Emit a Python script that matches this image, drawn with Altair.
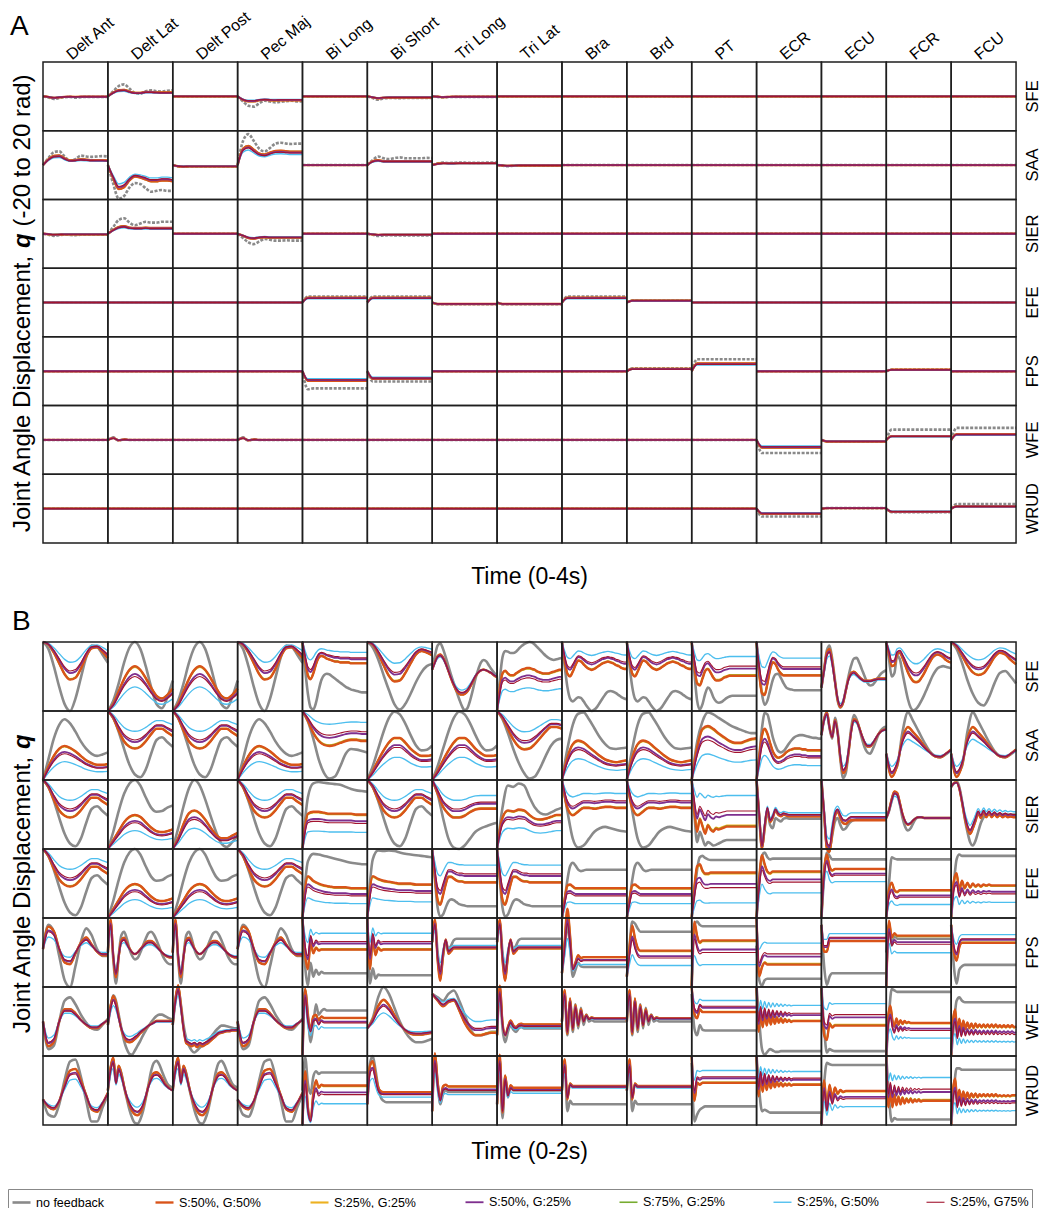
import altair as alt
import pandas as pd

alt.data_transformers.disable_max_rows()

FONT = "Liberation Sans"
JOINTS = ["SFE", "SAA", "SIER", "EFE", "FPS", "WFE", "WRUD"]
MUSCLES = ["Delt Ant", "Delt Lat", "Delt Post", "Pec Maj", "Bi Long", "Bi Short",
           "Tri Long", "Tri Lat", "Bra", "Brd", "PT", "ECR", "ECU", "FCR", "FCU"]
SERIES = ["no feedback", "S:50%, G:50%", "S:25%, G:25%", "S:50%, G:25%",
          "S:75%, G:25%", "S:25%, G:50%", "S:25%, G75%"]
COLORS = ["#8a8a8a", "#D95319", "#EDB120", "#7E2F8E", "#77AC30", "#4DBEEE", "#A2142F"]
WIDTHS = [2.6, 1.1, 1.1, 1.1, 1.1, 1.1, 1.2]
# place of each feedback run inside the fan of coloured curves (cyan closest to start)
FAN = [0.0, 1.0, 0.93, 0.25, 0.96, -1.0, 0.0]
# drawing order of the feedback runs (bottom to top)
LAYERS = [[2, 4], [1], [5], [3], [6]]

# ---------------- panel A : displacement (-20..20 rad), 0-4 s ----------------
Z13 = [0.0] * 13
A_T = {
    "flat": (Z13, Z13),
    "sfe_da": ([0, -0.6, -1.5, -1.0, -0.5, -0.4, -0.8, -0.5, -0.3, -0.3, -0.4, -0.3, -0.3],
               [0, -0.3, -0.8, -0.5, -0.3, -0.2, -0.3, -0.2, -0.2, -0.2, -0.2, -0.2, -0.2]),
    "sfe_dl": ([0, 3, 6, 7, 4.5, 2, 1.5, 3, 3.5, 3, 2.8, 3.3, 3.5],
               [0, 2, 3.2, 3.4, 2.5, 1.8, 1.8, 2.3, 2.3, 2.1, 2, 2, 2]),
    "sfe_pm": ([0, -3, -5.5, -6, -4, -2.5, -3, -3.5, -3.2, -2.8, -2.6, -3, -2.8],
               [0, -1.8, -2.6, -2.6, -2, -1.8, -2, -2.1, -2, -2, -2, -2, -2]),
    "sfe_bs": ([0, -1, -2, -1.2, -1, -1, -1.1, -1, -1, -1, -1, -1, -1],
               [0, -0.5, -1, -0.7, -0.6, -0.6, -0.6, -0.6, -0.6, -0.6, -0.6, -0.6, -0.6]),
    "tiny_dn": ([0, -0.3, -0.7, -0.4, -0.3, -0.3, -0.4, -0.3, -0.3, -0.3, -0.3, -0.3, -0.3],
                [0, -0.2, -0.4, -0.3, -0.2, -0.2, -0.2, -0.2, -0.2, -0.2, -0.2, -0.2, -0.2]),
    "saa_da": ([0, 4, 7.5, 8, 5, 2.5, 3.5, 5.5, 5, 4.8, 5, 5.2, 5],
               [0, 3, 4.8, 5, 3.5, 2.4, 2.6, 3, 2.8, 2.6, 2.5, 2.5, 2.4]),
    "saa_dl": ([0, -11, -19.5, -18, -13, -10.5, -11, -13.5, -15.5, -15, -14.5, -15, -15],
               [0, -7, -12.5, -11.5, -8, -6, -6.5, -7.5, -8.5, -8.5, -8, -8, -8.5]),
    "saa_dp": ([0, -0.8, -1, -0.8, -0.8, -0.8, -0.8, -0.8, -0.8, -0.8, -0.8, -0.8, -0.8],
               [0, -0.6, -0.8, -0.7, -0.7, -0.7, -0.7, -0.7, -0.7, -0.7, -0.7, -0.7, -0.7]),
    "saa_pm": ([0, 14, 18, 14, 9.5, 8, 10, 12.5, 13, 12.5, 12.3, 12.5, 12.5],
               [0, 8.5, 10, 8, 6, 5.5, 6.5, 7.3, 7.5, 7.2, 7, 7, 7]),
    "saa_bs": ([0, 3, 5, 4, 3.5, 4, 4.5, 4, 4, 4, 4, 4.2, 4],
               [0, 2, 2.5, 2, 2, 2, 2, 2, 2, 2, 2, 2, 2]),
    "saa_tlo": ([0, 1, 1.5, 1.2, 1.3, 1.5, 1.4, 1.3, 1.3, 1.3, 1.4, 1.4, 1.4],
                [0, 0.7, 1, 0.9, 0.9, 1, 1, 1, 1, 1, 1, 1, 1]),
    "sier_da": ([0, -0.5, -1.2, -0.8, -0.5, -0.7, -0.8, -0.6, -0.6, -0.6, -0.6, -0.6, -0.6],
                [0, -0.2, -0.5, -0.4, -0.3, -0.3, -0.3, -0.3, -0.3, -0.3, -0.3, -0.3, -0.3]),
    "sier_dl": ([0, 4, 8, 9, 6.5, 5, 6, 7, 6.5, 6.5, 7, 7, 7],
                [0, 2, 3.5, 4, 3.2, 3, 3, 3.2, 3, 3, 3, 3, 3]),
    "sier_pm": ([0, -2.5, -5, -6, -4.5, -3, -3.5, -4, -4, -3.8, -4, -4, -4],
                [0, -1, -2.2, -2.5, -2, -1.8, -2, -2, -2, -2, -2, -2, -2]),
    "sier_bs": ([0, -0.6, -1.2, -1, -0.8, -1, -1, -1, -1, -1, -1, -1, -1],
                [0, -0.3, -0.6, -0.5, -0.5, -0.5, -0.5, -0.5, -0.5, -0.5, -0.5, -0.5, -0.5]),
    "efe_up": ([0, 3.5, 3.5, 3.5, 3.5, 3.5, 3.5, 3.5, 3.5, 3.5, 3.5, 3.5, 3.5],
               [0, 2.5, 2.5, 2.5, 2.5, 2.5, 2.5, 2.5, 2.5, 2.5, 2.5, 2.5, 2.5]),
    "efe_dn": ([0, -1, -1, -1, -1, -1, -1, -1, -1, -1, -1, -1, -1],
               [0, -0.8, -0.8, -0.8, -0.8, -0.8, -0.8, -0.8, -0.8, -0.8, -0.8, -0.8, -0.8]),
    "efe_brd": ([0, 1.2, 1.2, 1.2, 1.2, 1.2, 1.2, 1.2, 1.2, 1.2, 1.2, 1.2, 1.2],
                [0, 1, 1, 1, 1, 1, 1, 1, 1, 1, 1, 1, 1]),
    "fps_bl": ([0, -10.5, -10, -10, -10, -10, -10, -10, -10, -10, -10, -10, -10],
               [0, -5, -5, -5, -5, -5, -5, -5, -5, -5, -5, -5, -5]),
    "fps_bs": ([0, -6, -6, -6, -6, -6, -6, -6, -6, -6, -6, -6, -6],
               [0, -4, -4, -4, -4, -4, -4, -4, -4, -4, -4, -4, -4]),
    "fps_brd": ([0, 1.7, 1.7, 1.7, 1.7, 1.7, 1.7, 1.7, 1.7, 1.7, 1.7, 1.7, 1.7],
                [0, 1.2, 1.2, 1.2, 1.2, 1.2, 1.2, 1.2, 1.2, 1.2, 1.2, 1.2, 1.2]),
    "fps_pt": ([0, 7, 7, 7, 7, 7, 7, 7, 7, 7, 7, 7, 7],
               [0, 4, 4, 4, 4, 4, 4, 4, 4, 4, 4, 4, 4]),
    "fps_fcr": ([0, 1, 1, 1, 1, 1, 1, 1, 1, 1, 1, 1, 1],
                [0, 0.8, 0.8, 0.8, 0.8, 0.8, 0.8, 0.8, 0.8, 0.8, 0.8, 0.8, 0.8]),
    "wfe_bump": ([0, 1.5, -0.3, 0.3, 0, 0, 0, 0, 0, 0, 0, 0, 0],
                 [0, 1, -0.2, 0.2, 0, 0, 0, 0, 0, 0, 0, 0, 0]),
    "wfe_ecr": ([0, -7.6, -7.6, -7.6, -7.6, -7.6, -7.6, -7.6, -7.6, -7.6, -7.6, -7.6, -7.6],
                [0, -4, -4, -4, -4, -4, -4, -4, -4, -4, -4, -4, -4]),
    "wfe_ecu": ([0, -1, -1, -1, -1, -1, -1, -1, -1, -1, -1, -1, -1],
                [0, -0.8, -0.8, -0.8, -0.8, -0.8, -0.8, -0.8, -0.8, -0.8, -0.8, -0.8, -0.8]),
    "wfe_fcr": ([0, 6, 6, 6, 6, 6, 6, 6, 6, 6, 6, 6, 6],
                [0, 2, 2, 2, 2, 2, 2, 2, 2, 2, 2, 2, 2]),
    "wfe_fcu": ([0, 7, 7, 7, 7, 7, 7, 7, 7, 7, 7, 7, 7],
                [0, 3, 3, 3, 3, 3, 3, 3, 3, 3, 3, 3, 3]),
    "wrud_ecr": ([0, -4.6, -4.6, -4.6, -4.6, -4.6, -4.6, -4.6, -4.6, -4.6, -4.6, -4.6, -4.6],
                 [0, -2.7, -2.7, -2.7, -2.7, -2.7, -2.7, -2.7, -2.7, -2.7, -2.7, -2.7, -2.7]),
    "wrud_ecu": ([0, 0.3, 0.3, 0.3, 0.3, 0.3, 0.3, 0.3, 0.3, 0.3, 0.3, 0.3, 0.3],
                 [0, 0.3, 0.3, 0.3, 0.3, 0.3, 0.3, 0.3, 0.3, 0.3, 0.3, 0.3, 0.3]),
    "wrud_fcr": ([0, -2, -2, -2, -2, -2, -2, -2, -2, -2, -2, -2, -2],
                 [0, -1.7, -1.7, -1.7, -1.7, -1.7, -1.7, -1.7, -1.7, -1.7, -1.7, -1.7, -1.7]),
    "wrud_fcu": ([0, 2.7, 2.7, 2.7, 2.7, 2.7, 2.7, 2.7, 2.7, 2.7, 2.7, 2.7, 2.7],
                 [0, 1.2, 1.2, 1.2, 1.2, 1.2, 1.2, 1.2, 1.2, 1.2, 1.2, 1.2, 1.2]),
}
A_MAP = {
    ("SFE", "Delt Ant"): "sfe_da", ("SFE", "Delt Lat"): "sfe_dl", ("SFE", "Pec Maj"): "sfe_pm",
    ("SFE", "Bi Short"): "sfe_bs", ("SFE", "Tri Long"): "tiny_dn",
    ("SAA", "Delt Ant"): "saa_da", ("SAA", "Delt Lat"): "saa_dl", ("SAA", "Delt Post"): "saa_dp",
    ("SAA", "Pec Maj"): "saa_pm", ("SAA", "Bi Short"): "saa_bs", ("SAA", "Tri Long"): "saa_tlo",
    ("SAA", "Tri Lat"): "tiny_dn",
    ("SIER", "Delt Ant"): "sier_da", ("SIER", "Delt Lat"): "sier_dl", ("SIER", "Pec Maj"): "sier_pm",
    ("SIER", "Bi Short"): "sier_bs",
    ("EFE", "Bi Long"): "efe_up", ("EFE", "Bi Short"): "efe_up", ("EFE", "Tri Long"): "efe_dn",
    ("EFE", "Tri Lat"): "efe_dn", ("EFE", "Bra"): "efe_up", ("EFE", "Brd"): "efe_brd",
    ("FPS", "Bi Long"): "fps_bl", ("FPS", "Bi Short"): "fps_bs", ("FPS", "Brd"): "fps_brd",
    ("FPS", "PT"): "fps_pt", ("FPS", "FCR"): "fps_fcr",
    ("WFE", "Delt Lat"): "wfe_bump", ("WFE", "Pec Maj"): "wfe_bump", ("WFE", "ECR"): "wfe_ecr",
    ("WFE", "ECU"): "wfe_ecu", ("WFE", "FCR"): "wfe_fcr", ("WFE", "FCU"): "wfe_fcu",
    ("WRUD", "ECR"): "wrud_ecr", ("WRUD", "ECU"): "wrud_ecu", ("WRUD", "FCR"): "wrud_fcr",
    ("WRUD", "FCU"): "wrud_fcu",
}

# ---------------- panel B : normalised displacement (0 bottom .. 1 top), 0-2 s ----------------
B_T = {
    "dip": ([1.0, 0.9, 0.65, 0.35, 0.1, 0.0, 0.18, 0.48, 0.78, 0.95, 0.93, 0.82, 0.7],
            [1.0, 0.97, 0.88, 0.76, 0.64, 0.58, 0.6, 0.7, 0.84, 0.93, 0.94, 0.89, 0.82]),
    "rise": ([0.0, 0.15, 0.4, 0.7, 0.92, 1.0, 0.9, 0.65, 0.35, 0.1, 0.04, 0.2, 0.44],
             [0.0, 0.08, 0.22, 0.36, 0.46, 0.5, 0.46, 0.37, 0.26, 0.17, 0.14, 0.18, 0.25]),
    "rise2": ([0.0, 0.3, 0.6, 0.8, 0.88, 0.82, 0.7, 0.56, 0.45, 0.38, 0.35, 0.37, 0.4],
              [0.0, 0.15, 0.27, 0.35, 0.38, 0.36, 0.32, 0.27, 0.22, 0.19, 0.17, 0.17, 0.18]),
    "dip2": ([1.0, 0.9, 0.7, 0.45, 0.22, 0.08, 0.04, 0.15, 0.38, 0.58, 0.62, 0.55, 0.48],
             [1.0, 0.92, 0.78, 0.66, 0.6, 0.58, 0.6, 0.66, 0.74, 0.8, 0.8, 0.76, 0.72]),
    "rise3": ([0.0, 0.25, 0.55, 0.8, 0.95, 1.0, 0.92, 0.75, 0.6, 0.54, 0.55, 0.6, 0.63],
              [0.0, 0.1, 0.2, 0.3, 0.36, 0.38, 0.36, 0.3, 0.24, 0.2, 0.19, 0.2, 0.22]),
    "rise4": ([0.0, 0.3, 0.62, 0.88, 1.0, 0.92, 0.72, 0.48, 0.25, 0.08, 0.03, 0.1, 0.2],
              [0.0, 0.12, 0.28, 0.4, 0.43, 0.4, 0.33, 0.24, 0.16, 0.12, 0.12, 0.15, 0.18]),
    "rise5": ([0.0, 0.2, 0.45, 0.7, 0.9, 0.99, 0.95, 0.82, 0.65, 0.5, 0.43, 0.44, 0.5],
              [0.0, 0.1, 0.22, 0.33, 0.42, 0.47, 0.47, 0.42, 0.35, 0.3, 0.27, 0.27, 0.28]),
    "dip3": ([1.0, 0.88, 0.68, 0.45, 0.25, 0.1, 0.02, 0.05, 0.18, 0.35, 0.5, 0.58, 0.6],
             [1.0, 0.92, 0.8, 0.68, 0.6, 0.57, 0.58, 0.63, 0.7, 0.77, 0.82, 0.82, 0.8]),
    "sfe_bl": ([1.0, 0.6, 0.25, 0.05, 0.02, 0.12, 0.3, 0.45, 0.52, 0.54, 0.53, 0.5, 0.47, 0.44, 0.41, 0.38, 0.35, 0.33, 0.31, 0.3, 0.29, 0.28, 0.27, 0.27, 0.27],
               [1.0, 0.8, 0.64, 0.6, 0.66, 0.76, 0.83, 0.85, 0.84, 0.82, 0.81, 0.8, 0.79, 0.79, 0.78, 0.78, 0.78, 0.78, 0.77, 0.77, 0.77, 0.77, 0.77, 0.77, 0.77]),
    "sfe_bs": ([1.0, 0.92, 0.75, 0.52, 0.3, 0.1, 0.02, 0.1, 0.25, 0.42, 0.56, 0.65, 0.68],
               [1.0, 0.97, 0.87, 0.74, 0.62, 0.56, 0.57, 0.65, 0.76, 0.86, 0.9, 0.88, 0.85]),
    "sfe_tlo": ([0.6, 0.8, 0.95, 0.98, 0.9, 0.78, 0.65, 0.52, 0.4, 0.28, 0.17, 0.07, 0.01, 0.04, 0.15, 0.3, 0.47, 0.6, 0.7, 0.74, 0.72, 0.66, 0.6, 0.55, 0.5],
                [0.6, 0.7, 0.78, 0.8, 0.76, 0.68, 0.58, 0.48, 0.39, 0.32, 0.28, 0.27, 0.28, 0.31, 0.37, 0.44, 0.51, 0.56, 0.59, 0.6, 0.59, 0.57, 0.55, 0.52, 0.5]),
    "sfe_tla": ([0.0, 0.45, 0.78, 0.87, 0.86, 0.84, 0.84, 0.86, 0.9, 0.94, 0.97, 0.99, 1.0, 0.99, 0.96, 0.92, 0.88, 0.84, 0.8, 0.77, 0.75, 0.74, 0.75, 0.76, 0.77],
                [0.0, 0.25, 0.42, 0.45, 0.42, 0.4, 0.4, 0.42, 0.44, 0.46, 0.47, 0.48, 0.48, 0.47, 0.46, 0.44, 0.43, 0.42, 0.42, 0.42, 0.43, 0.44, 0.45, 0.46, 0.46]),
    "sfe_bra": ([1.0, 0.65, 0.35, 0.18, 0.14, 0.17, 0.2, 0.19, 0.14, 0.08, 0.03, 0.0, 0.02, 0.06, 0.12, 0.18, 0.24, 0.28, 0.29, 0.28, 0.26, 0.23, 0.2, 0.18, 0.17],
                [1.0, 0.8, 0.66, 0.63, 0.68, 0.75, 0.8, 0.79, 0.76, 0.73, 0.71, 0.7, 0.71, 0.73, 0.75, 0.77, 0.78, 0.79, 0.78, 0.77, 0.75, 0.74, 0.72, 0.71, 0.71]),
    "sfe_pt": ([1.0, 0.55, 0.15, 0.02, 0.1, 0.25, 0.34, 0.3, 0.2, 0.14, 0.12, 0.13, 0.16, 0.19, 0.21, 0.22, 0.22, 0.22, 0.22, 0.22, 0.22, 0.22, 0.22, 0.22, 0.22],
               [1.0, 0.75, 0.57, 0.55, 0.62, 0.7, 0.72, 0.68, 0.63, 0.6, 0.6, 0.61, 0.63, 0.64, 0.65, 0.65, 0.65, 0.65, 0.65, 0.65, 0.65, 0.65, 0.65, 0.65, 0.65]),
    "sfe_ecr": ([1.0, 0.6, 0.25, 0.09, 0.15, 0.3, 0.45, 0.53, 0.54, 0.48, 0.4, 0.34, 0.32, 0.31, 0.3, 0.3, 0.3, 0.3, 0.3, 0.3, 0.3, 0.3, 0.3, 0.3, 0.3],
                [1.0, 0.65, 0.45, 0.43, 0.55, 0.7, 0.78, 0.76, 0.7, 0.66, 0.64, 0.64, 0.64, 0.64, 0.64, 0.64, 0.64, 0.64, 0.64, 0.64, 0.64, 0.64, 0.64, 0.64, 0.64]),
    "sfe_ecu": ([0.34, 0.6, 0.88, 0.95, 0.75, 0.45, 0.15, 0.05, 0.12, 0.3, 0.5, 0.66, 0.76, 0.77, 0.7, 0.6, 0.5, 0.41, 0.37, 0.38, 0.43, 0.49, 0.54, 0.57, 0.59],
                [0.34, 0.58, 0.8, 0.85, 0.68, 0.42, 0.18, 0.08, 0.14, 0.3, 0.45, 0.53, 0.55, 0.52, 0.48, 0.45, 0.43, 0.43, 0.43, 0.44, 0.45, 0.46, 0.46, 0.46, 0.46]),
    "sfe_fcr": ([1.0, 0.75, 0.5, 0.55, 0.8, 0.75, 0.55, 0.35, 0.17, 0.05, 0.01, 0.03, 0.08, 0.15, 0.23, 0.32, 0.41, 0.5, 0.57, 0.62, 0.64, 0.65, 0.64, 0.63, 0.62],
                [1.0, 0.86, 0.73, 0.74, 0.86, 0.88, 0.82, 0.74, 0.66, 0.6, 0.56, 0.55, 0.56, 0.6, 0.65, 0.71, 0.77, 0.82, 0.85, 0.86, 0.85, 0.83, 0.8, 0.78, 0.77]),
    "sfe_fcu": ([1.0, 0.9, 0.7, 0.45, 0.25, 0.12, 0.08, 0.2, 0.4, 0.55, 0.58, 0.5, 0.4],
                [1.0, 0.95, 0.85, 0.74, 0.66, 0.63, 0.65, 0.73, 0.83, 0.88, 0.86, 0.8, 0.75]),
    "saa_bl": ([1.0, 0.85, 0.6, 0.3, 0.1, 0.02, 0.05, 0.2, 0.38, 0.45, 0.44, 0.42, 0.4],
               [1.0, 0.9, 0.78, 0.7, 0.66, 0.65, 0.66, 0.68, 0.7, 0.71, 0.71, 0.7, 0.7]),
    "saa_bra": ([0.0, 0.45, 0.8, 0.96, 0.98, 0.88, 0.75, 0.62, 0.52, 0.46, 0.45, 0.46, 0.47],
                [0.0, 0.25, 0.4, 0.44, 0.42, 0.37, 0.32, 0.27, 0.23, 0.21, 0.2, 0.21, 0.22]),
    "saa_pt": ([0.0, 0.55, 0.85, 0.98, 0.95, 0.9, 0.85, 0.8, 0.76, 0.73, 0.7, 0.68, 0.68],
               [0.0, 0.35, 0.55, 0.58, 0.55, 0.5, 0.46, 0.42, 0.4, 0.4, 0.42, 0.44, 0.45]),
    "saa_ecr": ([0.0, 0.35, 0.75, 0.97, 0.95, 0.8, 0.62, 0.5, 0.42, 0.4, 0.42, 0.47, 0.53, 0.58, 0.62, 0.64, 0.65, 0.65, 0.64, 0.63, 0.62, 0.61, 0.61, 0.6, 0.6],
                [0.0, 0.25, 0.48, 0.55, 0.5, 0.4, 0.31, 0.26, 0.24, 0.25, 0.27, 0.3, 0.32, 0.33, 0.34, 0.34, 0.34, 0.33, 0.33, 0.32, 0.32, 0.32, 0.32, 0.32, 0.32]),
    "saa_ecu": ([0.65, 0.88, 0.98, 0.75, 0.6, 0.9, 0.7, 0.3, 0.03, 0.1, 0.4, 0.75, 0.94, 0.88, 0.75, 0.6, 0.47, 0.4, 0.38, 0.45, 0.55, 0.65, 0.72, 0.76, 0.77],
                [0.65, 0.86, 0.95, 0.75, 0.62, 0.85, 0.68, 0.35, 0.15, 0.2, 0.42, 0.7, 0.86, 0.84, 0.75, 0.64, 0.55, 0.5, 0.5, 0.54, 0.6, 0.66, 0.7, 0.72, 0.73]),
    "saa_fcr": ([0.38, 0.1, 0.2, 0.7, 0.98, 0.85, 0.7, 0.55, 0.42, 0.35, 0.33, 0.37, 0.43],
                [0.38, 0.12, 0.25, 0.55, 0.68, 0.62, 0.55, 0.47, 0.4, 0.35, 0.34, 0.38, 0.43]),
    "sier_bl": ([0.0, 0.75, 0.95, 0.97, 0.96, 0.95, 0.94, 0.93, 0.9, 0.87, 0.85, 0.84, 0.83],
                [0.0, 0.38, 0.4, 0.4, 0.39, 0.38, 0.38, 0.38, 0.38, 0.38, 0.37, 0.37, 0.37]),
    "sier_tlo": ([1.0, 0.8, 0.45, 0.15, 0.02, 0.0, 0.05, 0.15, 0.25, 0.3, 0.33, 0.36, 0.38],
                 [1.0, 0.85, 0.7, 0.62, 0.58, 0.58, 0.6, 0.64, 0.67, 0.68, 0.68, 0.68, 0.68]),
    "sier_tla": ([0.0, 0.6, 0.92, 0.9, 0.95, 0.92, 0.75, 0.6, 0.52, 0.5, 0.53, 0.57, 0.6],
                 [0.0, 0.35, 0.43, 0.42, 0.44, 0.43, 0.38, 0.34, 0.33, 0.34, 0.36, 0.38, 0.38]),
    "sier_bra": ([1.0, 0.55, 0.15, 0.02, 0.05, 0.15, 0.25, 0.3, 0.32, 0.3, 0.28, 0.26, 0.25],
                 [1.0, 0.7, 0.62, 0.66, 0.7, 0.7, 0.69, 0.7, 0.71, 0.71, 0.7, 0.7, 0.7]),
    "sier_pt": ([1.0, 0.5, 0.1, 0.25, 0.15, 0.05, 0.1, 0.08, 0.05, 0.06, 0.08, 0.1, 0.12, 0.13, 0.13, 0.13, 0.13, 0.13, 0.13, 0.13, 0.13, 0.13, 0.13, 0.13, 0.13],
                [1.0, 0.7, 0.5, 0.62, 0.55, 0.48, 0.56, 0.52, 0.5, 0.53, 0.52, 0.53, 0.54, 0.55, 0.55, 0.55, 0.55, 0.55, 0.55, 0.55, 0.55, 0.55, 0.55, 0.55, 0.55]),
    "sier_ecr": ([1.0, 0.45, 0.02, 0.3, 0.55, 0.35, 0.3, 0.45, 0.42, 0.4, 0.44, 0.45, 0.44, 0.44, 0.44, 0.44, 0.44, 0.44, 0.44, 0.44, 0.44, 0.44, 0.44, 0.44, 0.44],
                 [1.0, 0.5, 0.05, 0.35, 0.6, 0.42, 0.48, 0.58, 0.52, 0.5, 0.52, 0.51, 0.5, 0.5, 0.5, 0.5, 0.5, 0.5, 0.5, 0.5, 0.5, 0.5, 0.5, 0.5, 0.5]),
    "sier_ecu": ([1.0, 0.5, 0.05, 0.0, 0.2, 0.4, 0.45, 0.35, 0.28, 0.3, 0.36, 0.4, 0.42, 0.43, 0.44, 0.44, 0.44, 0.44, 0.44, 0.44, 0.44, 0.44, 0.44, 0.44, 0.44],
                 [1.0, 0.55, 0.1, 0.05, 0.3, 0.52, 0.58, 0.5, 0.43, 0.42, 0.45, 0.47, 0.47, 0.47, 0.47, 0.47, 0.47, 0.47, 0.47, 0.47, 0.47, 0.47, 0.47, 0.47, 0.47]),
    "sier_fcr": ([0.45, 0.55, 0.7, 0.82, 0.8, 0.65, 0.45, 0.32, 0.27, 0.3, 0.38, 0.44, 0.46, 0.46, 0.45, 0.45, 0.45, 0.45, 0.45, 0.45, 0.45, 0.45, 0.45, 0.45, 0.45],
                 [0.45, 0.55, 0.7, 0.8, 0.78, 0.65, 0.5, 0.4, 0.36, 0.38, 0.42, 0.45, 0.46, 0.46, 0.45, 0.45, 0.45, 0.45, 0.45, 0.45, 0.45, 0.45, 0.45, 0.45, 0.45]),
    "sier_fcu": ([0.9, 0.95, 0.98, 0.9, 0.7, 0.45, 0.25, 0.1, 0.05, 0.12, 0.25, 0.38, 0.46, 0.5, 0.5, 0.5, 0.5, 0.5, 0.5, 0.5, 0.5, 0.5, 0.5, 0.5, 0.5],
                 [0.9, 0.95, 0.96, 0.88, 0.7, 0.5, 0.35, 0.28, 0.35, 0.45, 0.55, 0.49, 0.56, 0.5, 0.55, 0.5, 0.54, 0.5, 0.53, 0.5, 0.52, 0.5, 0.51, 0.5, 0.5]),
    "efe_bl": ([0.0, 0.82, 0.93, 0.92, 0.9, 0.88, 0.86, 0.84, 0.82, 0.8, 0.79, 0.78, 0.78],
               [0.0, 0.45, 0.4, 0.37, 0.35, 0.34, 0.33, 0.33, 0.33, 0.32, 0.32, 0.32, 0.32]),
    "efe_bs": ([0.0, 0.85, 0.98, 0.97, 0.98, 0.97, 0.95, 0.93, 0.92, 0.91, 0.9, 0.89, 0.88],
               [0.0, 0.45, 0.42, 0.4, 0.39, 0.38, 0.37, 0.37, 0.37, 0.36, 0.36, 0.36, 0.36]),
    "efe_tlo": ([1.0, 0.55, 0.15, 0.02, 0.05, 0.15, 0.24, 0.27, 0.26, 0.23, 0.2, 0.19, 0.18, 0.17, 0.17, 0.17, 0.17, 0.17, 0.17, 0.17, 0.17, 0.17, 0.17, 0.17, 0.17],
                [1.0, 0.7, 0.45, 0.4, 0.5, 0.62, 0.7, 0.7, 0.68, 0.66, 0.65, 0.65, 0.64, 0.64, 0.64, 0.64, 0.64, 0.64, 0.64, 0.64, 0.64, 0.64, 0.64, 0.64, 0.64]),
    "efe_bra": ([0.0, 0.25, 0.55, 0.75, 0.8, 0.76, 0.7, 0.68, 0.69, 0.7, 0.7, 0.7, 0.7, 0.7, 0.7, 0.7, 0.7, 0.7, 0.7, 0.7, 0.7, 0.7, 0.7, 0.7, 0.7],
                [0.0, 0.2, 0.35, 0.36, 0.34, 0.32, 0.32, 0.32, 0.32, 0.32, 0.32, 0.32, 0.32, 0.32, 0.32, 0.32, 0.32, 0.32, 0.32, 0.32, 0.32, 0.32, 0.32, 0.32, 0.32]),
    "efe_pt": ([0.0, 0.35, 0.7, 0.88, 0.9, 0.87, 0.85, 0.84, 0.84, 0.84, 0.84, 0.84, 0.84, 0.84, 0.84, 0.84, 0.84, 0.84, 0.84, 0.84, 0.84, 0.84, 0.84, 0.84, 0.84],
               [0.0, 0.3, 0.5, 0.52, 0.46, 0.43, 0.43, 0.44, 0.44, 0.44, 0.44, 0.44, 0.44, 0.44, 0.44, 0.44, 0.44, 0.44, 0.44, 0.44, 0.44, 0.44, 0.44, 0.44, 0.44]),
    "efe_ecr": ([0.0, 0.5, 0.9, 0.95, 0.88, 0.85, 0.86, 0.86, 0.86, 0.86, 0.86, 0.86, 0.86, 0.86, 0.86, 0.86, 0.86, 0.86, 0.86, 0.86, 0.86, 0.86, 0.86, 0.86, 0.86],
                [0.0, 0.45, 0.7, 0.6, 0.52, 0.5, 0.52, 0.52, 0.52, 0.52, 0.52, 0.52, 0.52, 0.52, 0.52, 0.52, 0.52, 0.52, 0.52, 0.52, 0.52, 0.52, 0.52, 0.52, 0.52]),
    "efe_ecu": ([0.0, 0.6, 0.95, 0.9, 0.85, 0.85, 0.85, 0.85, 0.85, 0.85, 0.85, 0.85, 0.85, 0.85, 0.85, 0.85, 0.85, 0.85, 0.85, 0.85, 0.85, 0.85, 0.85, 0.85, 0.85],
                [0.0, 0.6, 0.8, 0.65, 0.6, 0.62, 0.62, 0.62, 0.62, 0.62, 0.62, 0.62, 0.62, 0.62, 0.62, 0.62, 0.62, 0.62, 0.62, 0.62, 0.62, 0.62, 0.62, 0.62, 0.62]),
    "efe_fcr": ([0.0, 0.5, 0.88, 0.86, 0.85, 0.85, 0.85, 0.85, 0.85, 0.85, 0.85, 0.85, 0.85, 0.85, 0.85, 0.85, 0.85, 0.85, 0.85, 0.85, 0.85, 0.85, 0.85, 0.85, 0.85],
                [0.0, 0.3, 0.38, 0.3, 0.28, 0.3, 0.3, 0.3, 0.3, 0.3, 0.3, 0.3, 0.3, 0.3, 0.3, 0.3, 0.3, 0.3, 0.3, 0.3, 0.3, 0.3, 0.3, 0.3, 0.3]),
    "efe_fcu": ([0.0, 0.5, 0.85, 0.92, 0.9, 0.9, 0.9, 0.9, 0.9, 0.9, 0.9, 0.9, 0.9, 0.9, 0.9, 0.9, 0.9, 0.9, 0.9, 0.9, 0.9, 0.9, 0.9, 0.9, 0.9],
                [0.0, 0.4, 0.48, 0.3, 0.4, 0.32, 0.38, 0.33, 0.37, 0.34, 0.36, 0.34, 0.36, 0.35, 0.36, 0.35, 0.35, 0.35, 0.35, 0.35, 0.35, 0.35, 0.35, 0.35, 0.35]),
    "fps_da": ([0.55, 0.9, 0.8, 0.45, 0.1, 0.0, 0.3, 0.65, 0.85, 0.75, 0.55, 0.45, 0.45],
               [0.55, 0.8, 0.75, 0.55, 0.4, 0.38, 0.5, 0.62, 0.68, 0.6, 0.52, 0.48, 0.48]),
    "fps_dl": ([0.5, 0.95, 0.4, 0.05, 0.45, 0.75, 0.8, 0.7, 0.55, 0.45, 0.4, 0.42, 0.5, 0.6, 0.7, 0.78, 0.8, 0.76, 0.68, 0.58, 0.48, 0.4, 0.35, 0.33, 0.33],
               [0.5, 0.9, 0.45, 0.2, 0.45, 0.65, 0.68, 0.62, 0.55, 0.5, 0.48, 0.5, 0.54, 0.58, 0.62, 0.64, 0.64, 0.62, 0.58, 0.54, 0.5, 0.47, 0.45, 0.44, 0.44]),
    "fps_bl": ([1.0, 0.3, 0.02, 0.35, 0.15, 0.25, 0.18, 0.22, 0.2, 0.2, 0.2, 0.2, 0.2, 0.2, 0.2, 0.2, 0.2, 0.2, 0.2, 0.2, 0.2, 0.2, 0.2, 0.2, 0.2],
               [1.0, 0.6, 0.45, 0.75, 0.62, 0.68, 0.65, 0.66, 0.66, 0.66, 0.66, 0.66, 0.66, 0.66, 0.66, 0.66, 0.66, 0.66, 0.66, 0.66, 0.66, 0.66, 0.66, 0.66, 0.66]),
    "fps_bs": ([1.0, 0.05, 0.27, 0.12, 0.18, 0.17, 0.17, 0.17, 0.17, 0.17, 0.17, 0.17, 0.17, 0.17, 0.17, 0.17, 0.17, 0.17, 0.17, 0.17, 0.17, 0.17, 0.17, 0.17, 0.17],
               [1.0, 0.45, 0.78, 0.6, 0.68, 0.65, 0.66, 0.66, 0.66, 0.66, 0.66, 0.66, 0.66, 0.66, 0.66, 0.66, 0.66, 0.66, 0.66, 0.66, 0.66, 0.66, 0.66, 0.66, 0.66]),
    "fps_tlo": ([0.65, 0.93, 0.5, 0.2, 0.45, 0.66, 0.55, 0.6, 0.68, 0.7, 0.7, 0.7, 0.7, 0.7, 0.7, 0.7, 0.7, 0.7, 0.7, 0.7, 0.7, 0.7, 0.7, 0.7, 0.7],
                [0.65, 0.9, 0.45, 0.22, 0.5, 0.68, 0.52, 0.55, 0.58, 0.58, 0.58, 0.58, 0.58, 0.58, 0.58, 0.58, 0.58, 0.58, 0.58, 0.58, 0.58, 0.58, 0.58, 0.58, 0.58]),
    "fps_bra": ([0.2, 0.55, 0.9, 0.6, 0.15, 0.25, 0.35, 0.3, 0.29, 0.29, 0.29, 0.29, 0.29, 0.29, 0.29, 0.29, 0.29, 0.29, 0.29, 0.29, 0.29, 0.29, 0.29, 0.29, 0.29],
                [0.2, 0.55, 0.92, 0.62, 0.25, 0.32, 0.4, 0.37, 0.38, 0.38, 0.38, 0.38, 0.38, 0.38, 0.38, 0.38, 0.38, 0.38, 0.38, 0.38, 0.38, 0.38, 0.38, 0.38, 0.38]),
    "fps_brd": ([0.15, 0.6, 0.95, 0.92, 0.85, 0.8, 0.8, 0.8, 0.8, 0.8, 0.8, 0.8, 0.8, 0.8, 0.8, 0.8, 0.8, 0.8, 0.8, 0.8, 0.8, 0.8, 0.8, 0.8, 0.8],
                [0.15, 0.45, 0.68, 0.55, 0.45, 0.42, 0.42, 0.42, 0.42, 0.42, 0.42, 0.42, 0.42, 0.42, 0.42, 0.42, 0.42, 0.42, 0.42, 0.42, 0.42, 0.42, 0.42, 0.42, 0.42]),
    "fps_pt": ([0.0, 0.9, 0.95, 0.9, 0.88, 0.88, 0.88, 0.88, 0.88, 0.88, 0.88, 0.88, 0.88, 0.88, 0.88, 0.88, 0.88, 0.88, 0.88, 0.88, 0.88, 0.88, 0.88, 0.88, 0.88],
               [0.0, 0.7, 0.55, 0.48, 0.5, 0.5, 0.5, 0.5, 0.5, 0.5, 0.5, 0.5, 0.5, 0.5, 0.5, 0.5, 0.5, 0.5, 0.5, 0.5, 0.5, 0.5, 0.5, 0.5, 0.5]),
    "fps_ecr": ([0.6, 0.1, 0.02, 0.1, 0.12, 0.12, 0.12, 0.12, 0.12, 0.12, 0.12, 0.12, 0.12, 0.12, 0.12, 0.12, 0.12, 0.12, 0.12, 0.12, 0.12, 0.12, 0.12, 0.12, 0.12],
                [1.0, 0.35, 0.45, 0.5, 0.48, 0.48, 0.48, 0.48, 0.48, 0.48, 0.48, 0.48, 0.48, 0.48, 0.48, 0.48, 0.48, 0.48, 0.48, 0.48, 0.48, 0.48, 0.48, 0.48, 0.48]),
    "fps_ecu": ([0.9, 0.3, 0.03, 0.15, 0.2, 0.2, 0.2, 0.2, 0.2, 0.2, 0.2, 0.2, 0.2, 0.2, 0.2, 0.2, 0.2, 0.2, 0.2, 0.2, 0.2, 0.2, 0.2, 0.2, 0.2],
                [0.9, 0.6, 0.6, 0.72, 0.72, 0.72, 0.72, 0.72, 0.72, 0.72, 0.72, 0.72, 0.72, 0.72, 0.72, 0.72, 0.72, 0.72, 0.72, 0.72, 0.72, 0.72, 0.72, 0.72, 0.72]),
    "fps_fcr": ([0.5, 0.9, 0.6, 0.75, 0.7, 0.7, 0.7, 0.7, 0.7, 0.7, 0.7, 0.7, 0.7, 0.7, 0.7, 0.7, 0.7, 0.7, 0.7, 0.7, 0.7, 0.7, 0.7, 0.7, 0.7],
                [0.0, 0.8, 0.6, 0.65, 0.62, 0.62, 0.62, 0.62, 0.62, 0.62, 0.62, 0.62, 0.62, 0.62, 0.62, 0.62, 0.62, 0.62, 0.62, 0.62, 0.62, 0.62, 0.62, 0.62, 0.62]),
    "fps_fcu": ([0.9, 0.3, 0.05, 0.25, 0.3, 0.32, 0.32, 0.32, 0.32, 0.32, 0.32, 0.32, 0.32, 0.32, 0.32, 0.32, 0.32, 0.32, 0.32, 0.32, 0.32, 0.32, 0.32, 0.32, 0.32],
                [0.9, 0.6, 0.5, 0.65, 0.7, 0.7, 0.7, 0.7, 0.7, 0.7, 0.7, 0.7, 0.7, 0.7, 0.7, 0.7, 0.7, 0.7, 0.7, 0.7, 0.7, 0.7, 0.7, 0.7, 0.7]),
    "wfe_da": ([0.5, 0.1, 0.15, 0.5, 0.8, 0.85, 0.75, 0.6, 0.48, 0.4, 0.38, 0.45, 0.54],
               [0.5, 0.2, 0.25, 0.5, 0.65, 0.65, 0.6, 0.52, 0.46, 0.42, 0.42, 0.47, 0.52]),
    "wfe_dl": ([0.45, 0.7, 0.88, 0.8, 0.6, 0.4, 0.22, 0.1, 0.03, 0.02, 0.08, 0.15, 0.22, 0.3, 0.37, 0.43, 0.49, 0.54, 0.58, 0.6, 0.6, 0.58, 0.56, 0.54, 0.53],
               [0.45, 0.68, 0.8, 0.72, 0.55, 0.4, 0.3, 0.25, 0.24, 0.25, 0.28, 0.31, 0.35, 0.38, 0.41, 0.44, 0.46, 0.48, 0.5, 0.5, 0.5, 0.5, 0.5, 0.5, 0.5]),
    "wfe_dp": ([0.45, 0.8, 1.0, 0.75, 0.45, 0.25, 0.15, 0.08, 0.05, 0.08, 0.12, 0.15, 0.18, 0.22, 0.27, 0.32, 0.37, 0.41, 0.44, 0.44, 0.43, 0.42, 0.41, 0.4, 0.4],
               [0.45, 0.78, 0.95, 0.7, 0.4, 0.22, 0.2, 0.18, 0.2, 0.17, 0.2, 0.18, 0.2, 0.22, 0.25, 0.28, 0.31, 0.34, 0.35, 0.36, 0.37, 0.37, 0.38, 0.38, 0.38]),
    "wfe_bl": ([0.0, 0.95, 0.6, 0.2, 0.45, 0.75, 0.6, 0.65, 0.68, 0.66, 0.66, 0.66, 0.66, 0.66, 0.66, 0.66, 0.66, 0.66, 0.66, 0.66, 0.66, 0.66, 0.66, 0.66, 0.66],
               [0.0, 0.85, 0.5, 0.35, 0.5, 0.52, 0.45, 0.5, 0.48, 0.48, 0.48, 0.48, 0.48, 0.48, 0.48, 0.48, 0.48, 0.48, 0.48, 0.48, 0.48, 0.48, 0.48, 0.48, 0.48]),
    "wfe_bs": ([0.4, 0.55, 0.85, 1.0, 0.9, 0.7, 0.5, 0.35, 0.25, 0.2, 0.2, 0.22, 0.25],
               [0.4, 0.5, 0.65, 0.72, 0.66, 0.55, 0.45, 0.38, 0.34, 0.33, 0.33, 0.34, 0.35]),
    "wfe_tlo": ([0.9, 0.85, 0.8, 0.9, 0.95, 0.8, 0.6, 0.4, 0.3, 0.3, 0.32, 0.35, 0.35],
                [0.9, 0.82, 0.75, 0.8, 0.82, 0.7, 0.55, 0.45, 0.4, 0.4, 0.42, 0.43, 0.43]),
    "wfe_tla": ([0.3, 1.0, 0.4, 0.2, 0.35, 0.45, 0.38, 0.35, 0.4, 0.42, 0.4, 0.4, 0.4, 0.4, 0.4, 0.4, 0.4, 0.4, 0.4, 0.4, 0.4, 0.4, 0.4, 0.4, 0.4],
                [0.3, 0.9, 0.45, 0.3, 0.4, 0.48, 0.42, 0.4, 0.43, 0.44, 0.43, 0.43, 0.43, 0.43, 0.43, 0.43, 0.43, 0.43, 0.43, 0.43, 0.43, 0.43, 0.43, 0.43, 0.43]),
    "wfe_bra": ([0.5, 0.9, 0.3, 0.8, 0.35, 0.75, 0.4, 0.7, 0.45, 0.6, 0.5, 0.52, 0.5, 0.5, 0.5, 0.5, 0.5, 0.5, 0.5, 0.5, 0.5, 0.5, 0.5, 0.5, 0.5],
                [0.5, 0.88, 0.35, 0.78, 0.4, 0.7, 0.45, 0.65, 0.5, 0.58, 0.53, 0.55, 0.54, 0.54, 0.54, 0.54, 0.54, 0.54, 0.54, 0.54, 0.54, 0.54, 0.54, 0.54, 0.54]),
    "wfe_pt": ([0.9, 0.4, 0.3, 0.45, 0.38, 0.37, 0.37, 0.37, 0.37, 0.37, 0.37, 0.37, 0.37, 0.37, 0.37, 0.37, 0.37, 0.37, 0.37, 0.37, 0.37, 0.37, 0.37, 0.37, 0.37],
               [1.0, 0.7, 0.65, 0.75, 0.72, 0.72, 0.72, 0.72, 0.72, 0.72, 0.72, 0.72, 0.72, 0.72, 0.72, 0.72, 0.72, 0.72, 0.72, 0.72, 0.72, 0.72, 0.72, 0.72, 0.72]),
    "wfe_ecr": ([1.0, 0.5, 0.1, 0.02, 0.06, 0.1, 0.08, 0.06, 0.06, 0.07, 0.07, 0.07, 0.07, 0.07, 0.07, 0.07, 0.07, 0.07, 0.07, 0.07, 0.07, 0.07, 0.07, 0.07, 0.07],
                [1.0, 0.5, 0.72, 0.55, 0.7, 0.57, 0.68, 0.58, 0.67, 0.59, 0.66, 0.6, 0.65, 0.6, 0.64, 0.61, 0.63, 0.61, 0.62, 0.62, 0.62, 0.62, 0.62, 0.62, 0.62, 0.62, 0.62, 0.62, 0.62, 0.62, 0.62, 0.62, 0.62]),
    "wfe_ecu": ([1.0, 0.4, 0.05, 0.1, 0.08, 0.07, 0.07, 0.07, 0.07, 0.07, 0.07, 0.07, 0.07, 0.07, 0.07, 0.07, 0.07, 0.07, 0.07, 0.07, 0.07, 0.07, 0.07, 0.07, 0.07],
                [1.0, 0.5, 0.45, 0.62, 0.58, 0.6, 0.6, 0.6, 0.6, 0.6, 0.6, 0.6, 0.6, 0.6, 0.6, 0.6, 0.6, 0.6, 0.6, 0.6, 0.6, 0.6, 0.6, 0.6, 0.6]),
    "wfe_fcr": ([0.0, 0.6, 0.97, 0.95, 0.93, 0.93, 0.93, 0.93, 0.93, 0.93, 0.93, 0.93, 0.93, 0.93, 0.93, 0.93, 0.93, 0.93, 0.93, 0.93, 0.93, 0.93, 0.93, 0.93, 0.93],
                [0.0, 0.45, 0.56, 0.4, 0.33, 0.42, 0.35, 0.4, 0.36, 0.39, 0.37, 0.38, 0.37, 0.37, 0.37, 0.37, 0.37, 0.37, 0.37, 0.37, 0.37, 0.37, 0.37, 0.37, 0.37, 0.37, 0.37, 0.37, 0.37, 0.37, 0.37, 0.37, 0.37]),
    "wfe_fcu": ([0.0, 0.45, 0.8, 0.85, 0.8, 0.78, 0.78, 0.78, 0.78, 0.78, 0.78, 0.78, 0.78, 0.78, 0.78, 0.78, 0.78, 0.78, 0.78, 0.78, 0.78, 0.78, 0.78, 0.78, 0.78],
                [0.0, 0.4, 0.5, 0.25, 0.4, 0.28, 0.38, 0.29, 0.36, 0.3, 0.35, 0.3, 0.35, 0.31, 0.34, 0.31, 0.34, 0.31, 0.34, 0.31, 0.34, 0.31, 0.34, 0.31, 0.33, 0.31, 0.33, 0.31, 0.33, 0.31, 0.33, 0.31, 0.32]),
    "wrud_da": ([0.37, 0.15, 0.12, 0.3, 0.65, 0.92, 0.95, 0.7, 0.35, 0.05, 0.05, 0.25, 0.44],
                [0.37, 0.28, 0.25, 0.35, 0.55, 0.72, 0.74, 0.6, 0.42, 0.25, 0.22, 0.32, 0.45]),
    "wrud_dl": ([0.5, 0.8, 0.95, 0.6, 0.85, 0.75, 0.55, 0.38, 0.22, 0.1, 0.03, 0.02, 0.08, 0.2, 0.38, 0.58, 0.78, 0.9, 0.93, 0.88, 0.78, 0.68, 0.6, 0.56, 0.54],
                [0.5, 0.78, 0.9, 0.6, 0.8, 0.7, 0.55, 0.42, 0.32, 0.25, 0.21, 0.2, 0.23, 0.3, 0.42, 0.55, 0.65, 0.71, 0.72, 0.7, 0.65, 0.59, 0.55, 0.52, 0.5]),
    "wrud_bl": ([0.5, 0.98, 0.6, 0.45, 0.7, 0.78, 0.74, 0.76, 0.76, 0.76, 0.76, 0.76, 0.76, 0.76, 0.76, 0.76, 0.76, 0.76, 0.76, 0.76, 0.76, 0.76, 0.76, 0.76, 0.76],
                [0.0, 0.6, 0.2, 0.05, 0.35, 0.5, 0.42, 0.45, 0.44, 0.44, 0.44, 0.44, 0.44, 0.44, 0.44, 0.44, 0.44, 0.44, 0.44, 0.44, 0.44, 0.44, 0.44, 0.44, 0.44]),
    "wrud_bs": ([0.3, 0.9, 1.0, 0.8, 0.55, 0.4, 0.35, 0.33, 0.33, 0.33, 0.33, 0.33, 0.33, 0.33, 0.33, 0.33, 0.33, 0.33, 0.33, 0.33, 0.33, 0.33, 0.33, 0.33, 0.33],
                [0.3, 0.75, 0.8, 0.65, 0.5, 0.45, 0.44, 0.44, 0.44, 0.44, 0.44, 0.44, 0.44, 0.44, 0.44, 0.44, 0.44, 0.44, 0.44, 0.44, 0.44, 0.44, 0.44, 0.44, 0.44]),
    "wrud_tlo": ([0.2, 1.0, 0.6, 0.3, 0.45, 0.5, 0.48, 0.48, 0.48, 0.48, 0.48, 0.48, 0.48, 0.48, 0.48, 0.48, 0.48, 0.48, 0.48, 0.48, 0.48, 0.48, 0.48, 0.48, 0.48],
                 [0.2, 0.9, 0.55, 0.35, 0.5, 0.52, 0.5, 0.5, 0.5, 0.5, 0.5, 0.5, 0.5, 0.5, 0.5, 0.5, 0.5, 0.5, 0.5, 0.5, 0.5, 0.5, 0.5, 0.5, 0.5]),
    "wrud_tla": ([0.3, 0.95, 0.1, 0.7, 0.4, 0.55, 0.5, 0.5, 0.5, 0.5, 0.5, 0.5, 0.5, 0.5, 0.5, 0.5, 0.5, 0.5, 0.5, 0.5, 0.5, 0.5, 0.5, 0.5, 0.5],
                 [0.3, 0.9, 0.2, 0.65, 0.42, 0.53, 0.5, 0.5, 0.5, 0.5, 0.5, 0.5, 0.5, 0.5, 0.5, 0.5, 0.5, 0.5, 0.5, 0.5, 0.5, 0.5, 0.5, 0.5, 0.5]),
    "wrud_bra": ([0.5, 0.9, 0.2, 0.35, 0.3, 0.3, 0.3, 0.3, 0.3, 0.3, 0.3, 0.3, 0.3, 0.3, 0.3, 0.3, 0.3, 0.3, 0.3, 0.3, 0.3, 0.3, 0.3, 0.3, 0.3],
                 [0.5, 0.85, 0.4, 0.58, 0.55, 0.55, 0.55, 0.55, 0.55, 0.55, 0.55, 0.55, 0.55, 0.55, 0.55, 0.55, 0.55, 0.55, 0.55, 0.55, 0.55, 0.55, 0.55, 0.55, 0.55]),
    "wrud_pt": ([0.9, 0.05, 0.15, 0.22, 0.25, 0.27, 0.27, 0.27, 0.27, 0.27, 0.27, 0.27, 0.27, 0.27, 0.27, 0.27, 0.27, 0.27, 0.27, 0.27, 0.27, 0.27, 0.27, 0.27, 0.27],
                [1.0, 0.5, 0.7, 0.68, 0.7, 0.7, 0.7, 0.7, 0.7, 0.7, 0.7, 0.7, 0.7, 0.7, 0.7, 0.7, 0.7, 0.7, 0.7, 0.7, 0.7, 0.7, 0.7, 0.7, 0.7]),
    "wrud_ecr": ([1.0, 0.5, 0.2, 0.22, 0.2, 0.18, 0.18, 0.18, 0.18, 0.18, 0.18, 0.18, 0.18, 0.18, 0.18, 0.18, 0.18, 0.18, 0.18, 0.18, 0.18, 0.18, 0.18, 0.18, 0.18],
                 [1.0, 0.55, 0.78, 0.6, 0.75, 0.62, 0.73, 0.64, 0.72, 0.65, 0.71, 0.66, 0.7, 0.66, 0.69, 0.67, 0.69, 0.67, 0.68, 0.68, 0.68, 0.68, 0.68, 0.68, 0.68, 0.68, 0.68, 0.68, 0.68, 0.68, 0.68, 0.68, 0.68]),
    "wrud_ecu": ([0.0, 0.6, 0.9, 0.88, 0.87, 0.87, 0.87, 0.87, 0.87, 0.87, 0.87, 0.87, 0.87, 0.87, 0.87, 0.87, 0.87, 0.87, 0.87, 0.87, 0.87, 0.87, 0.87, 0.87, 0.87],
                 [0.0, 0.5, 0.2, 0.45, 0.3, 0.42, 0.35, 0.39, 0.37, 0.38, 0.38, 0.38, 0.38, 0.38, 0.38, 0.38, 0.38, 0.38, 0.38, 0.38, 0.38, 0.38, 0.38, 0.38, 0.38]),
    "wrud_fcr": ([1.0, 0.4, 0.05, 0.1, 0.08, 0.08, 0.08, 0.08, 0.08, 0.08, 0.08, 0.08, 0.08, 0.08, 0.08, 0.08, 0.08, 0.08, 0.08, 0.08, 0.08, 0.08, 0.08, 0.08, 0.08],
                 [1.0, 0.45, 0.62, 0.45, 0.58, 0.47, 0.56, 0.48, 0.55, 0.49, 0.54, 0.5, 0.54, 0.5, 0.53, 0.51, 0.53, 0.51, 0.52, 0.52, 0.52, 0.52, 0.52, 0.52, 0.52, 0.52, 0.52, 0.52, 0.52, 0.52, 0.52, 0.52, 0.52]),
    "wrud_fcu": ([0.0, 0.5, 0.82, 0.82, 0.8, 0.8, 0.8, 0.8, 0.8, 0.8, 0.8, 0.8, 0.8, 0.8, 0.8, 0.8, 0.8, 0.8, 0.8, 0.8, 0.8, 0.8, 0.8, 0.8, 0.8],
                 [0.0, 0.4, 0.5, 0.25, 0.38, 0.27, 0.36, 0.28, 0.35, 0.29, 0.34, 0.3, 0.34, 0.3, 0.33, 0.31, 0.33, 0.31, 0.33, 0.31, 0.33, 0.31, 0.33, 0.31, 0.32, 0.31, 0.32, 0.31, 0.32, 0.31, 0.32, 0.32, 0.32]),
}
B_MAP = {
    "SFE": [("dip", .3), ("rise", .3), ("rise", .3), ("dip", .3), ("sfe_bl", .35), ("sfe_bs", .3),
            ("sfe_tlo", .1), ("sfe_tla", .3), ("sfe_bra", .35), ("sfe_bra", .35), ("sfe_pt", .4),
            ("sfe_ecr", .35), ("sfe_ecu", .1), ("sfe_fcr", .3), ("sfe_fcu", .3)],
    "SAA": [("rise2", .3), ("dip2", .3), ("dip2", .3), ("rise2", .3), ("saa_bl", .45), ("rise5", .3),
            ("rise5", .3), ("dip3", .3), ("saa_bra", .3), ("saa_bra", .3), ("saa_pt", .35),
            ("saa_ecr", .35), ("saa_ecu", .1), ("saa_fcr", .3), ("saa_fcr", .3)],
    "SIER": [("dip2", .3), ("rise3", .3), ("rise4", .3), ("dip2", .3), ("sier_bl", .35), ("dip2", .3),
             ("sier_tlo", .3), ("sier_tla", .3), ("sier_bra", .35), ("sier_bra", .35), ("sier_pt", .5),
             ("sier_ecr", .05), ("sier_ecu", .1), ("sier_fcr", .1), ("sier_fcu", .1)],
    "EFE": [("dip2", .3), ("rise3", .3), ("rise3", .3), ("dip2", .3), ("efe_bl", .35), ("efe_bs", .35),
            ("efe_tlo", .35), ("efe_tlo", .35), ("efe_bra", .35), ("efe_bra", .35), ("efe_pt", .5),
            ("efe_ecr", .3), ("efe_ecu", .15), ("efe_fcr", .35), ("efe_fcu", .35)],
    "FPS": [("fps_da", .3), ("fps_dl", .2), ("fps_dl", .2), ("fps_da", .3), ("fps_bl", .35), ("fps_bs", .35),
            ("fps_tlo", .3), ("fps_tlo", .3), ("fps_bra", .3), ("fps_brd", .4), ("fps_pt", .35),
            ("fps_ecr", .3), ("fps_ecu", .3), ("fps_fcr", .2), ("fps_fcu", .3)],
    "WFE": [("wfe_da", .2), ("wfe_dl", .2), ("wfe_dp", .15), ("wfe_da", .2), ("wfe_bl", .15), ("wfe_bs", .3),
            ("wfe_tlo", .2), ("wfe_tla", .2), ("wfe_bra", .2), ("wfe_bra", .2), ("wfe_pt", .3),
            ("wfe_ecr", .3), ("wfe_ecu", .4), ("wfe_fcr", .3), ("wfe_fcu", .35)],
    "WRUD": [("wrud_da", .2), ("wrud_dl", .2), ("wrud_dl", .2), ("wrud_da", .2), ("wrud_bl", .3), ("wrud_bs", .25),
             ("wrud_tlo", .2), ("wrud_tla", .2), ("wrud_bra", .3), ("wrud_bra", .3), ("wrud_pt", .3),
             ("wrud_ecr", .3), ("wrud_ecu", .3), ("wrud_fcr", .35), ("wrud_fcu", .35)],
}

# ---------------- figure layout (chart pixels; the page adds an 8 px margin) ----------------
W, H = 1036, 1200
X0, CW = 35.0, 64.87               # left edge of the grids, column width
BLOCKS = {                          # top edge, row height, duration, value range
    "A": dict(y0=54.0, rh=481 / 7, T=4.0, lo=-20.0, hi=20.0),
    "B": dict(y0=634.0, rh=69.0, T=2.0, lo=0.0, hi=1.0),
}


def series_values(block, j, m, mi):
    if block == "A":
        g, f = A_T[A_MAP.get((j, m), "flat")]
        spread = 0.12
    else:
        key, spread = B_MAP[j][mi]
        g, f = B_T[key]
    out = [g]
    for k in range(1, len(SERIES)):
        mult = 1.0 + spread * FAN[k]
        out.append([f[0] + (v - f[0]) * mult for v in f])
    return out


rows = []
for block, P in BLOCKS.items():
    for r, j in enumerate(JOINTS):
        for c, m in enumerate(MUSCLES):
            for k, vals in enumerate(series_values(block, j, m, c)):
                n = len(vals)
                for i, v in enumerate(vals):
                    t = P["T"] * i / (n - 1)
                    frac = (P["hi"] - v) / (P["hi"] - P["lo"])
                    rows.append(dict(block=block, key=f"{block}-{j}-{m}", series=SERIES[k],
                                     px=round(X0 + (c + t / P["T"]) * CW, 2),
                                     py=round(P["y0"] + (r + frac) * P["rh"], 2)))
lines = pd.DataFrame(rows)

cells = pd.DataFrame([
    dict(x0=X0 + c * CW, x1=X0 + (c + 1) * CW,
         y0=P["y0"] + r * P["rh"], y1=P["y0"] + (r + 1) * P["rh"])
    for P in BLOCKS.values() for r in range(len(JOINTS)) for c in range(len(MUSCLES))
])

col_labels = pd.DataFrame(dict(txt=MUSCLES, x=[X0 + (c + 0.5) * CW - 3.5 for c in range(len(MUSCLES))],
                               y=[52.5] * len(MUSCLES)))
row_labels = pd.DataFrame([
    dict(txt=j, x=X0 + 15 * CW + 9, y=P["y0"] + (r + 0.5) * P["rh"])
    for P in BLOCKS.values() for r, j in enumerate(JOINTS)
])

# widths of the y-title pieces at 24 px (Arial metrics)
W1, WQ, WS = 284.1, 14.7, 6.7
TITLES = pd.DataFrame([
    dict(txt="A", x=2, y=27, size=28, angle=0, align="left", weight="normal", style="normal"),
    dict(txt="B", x=4, y=622, size=28, angle=0, align="left", weight="normal", style="normal"),
    dict(txt="Time (0-4s)", x=X0 + 7.5 * CW, y=569, size=23, angle=0, align="center", weight="normal", style="normal"),
    dict(txt="Time (0-2s)", x=X0 + 7.5 * CW, y=1144, size=23, angle=0, align="center", weight="normal", style="normal"),
    dict(txt="Joint Angle Displacement,", x=22, y=524, size=24, angle=270, align="left", weight="normal", style="normal"),
    dict(txt="q", x=22, y=524 - W1, size=24, angle=270, align="left", weight="bold", style="italic"),
    dict(txt="(-20 to 20 rad)", x=22, y=524 - W1 - WQ - WS, size=24, angle=270, align="left", weight="normal", style="normal"),
    dict(txt="Joint Angle Displacement,", x=22, y=1025, size=24, angle=270, align="left", weight="normal", style="normal"),
    dict(txt="q", x=22, y=1025 - W1, size=24, angle=270, align="left", weight="bold", style="italic"),
])

XS = alt.Scale(domain=[0, W], range=[0, W], nice=False, zero=False)
YS = alt.Scale(domain=[0, H], range=[0, H], nice=False, zero=False)


def xy(xf, yf):
    return dict(x=alt.X(f"{xf}:Q", scale=XS, axis=None), y=alt.Y(f"{yf}:Q", scale=YS, axis=None))


line_enc = dict(
    **xy("px", "py"),
    detail="key:N",
    color=alt.Color("series:N", title=None, scale=alt.Scale(domain=SERIES, range=COLORS)),
    strokeWidth=alt.StrokeWidth("series:N", title=None, scale=alt.Scale(domain=SERIES, range=WIDTHS)),
)

layers = [
    alt.Chart(lines).mark_line(interpolate="monotone", strokeDash=[3, 1.5]).encode(**line_enc)
    .transform_filter((alt.datum.block == "A") & (alt.datum.series == SERIES[0])),
    alt.Chart(lines).mark_line(interpolate="monotone").encode(**line_enc)
    .transform_filter((alt.datum.block == "B") & (alt.datum.series == SERIES[0])),
]
for grp in LAYERS:
    layers.append(
        alt.Chart(lines).mark_line(interpolate="monotone").encode(**line_enc)
        .transform_filter(alt.FieldOneOfPredicate(field="series", oneOf=[SERIES[i] for i in grp])))

layers.append(alt.Chart(cells).mark_rect(fillOpacity=0, stroke="#1e1e1e", strokeWidth=1.5).encode(
    x=alt.X("x0:Q", scale=XS, axis=None), x2="x1:Q",
    y=alt.Y("y0:Q", scale=YS, axis=None), y2="y1:Q"))

layers.append(alt.Chart(col_labels).mark_text(
    angle=320, align="left", baseline="alphabetic", font=FONT, fontSize=16, color="black",
).encode(**xy("x", "y"), text="txt:N"))

layers.append(alt.Chart(row_labels).mark_text(
    angle=270, align="center", baseline="top", font=FONT, fontSize=16.5, color="black",
).encode(**xy("x", "y"), text="txt:N"))

for idx, tr in TITLES.iterrows():
    layers.append(alt.Chart(TITLES.iloc[[idx]]).mark_text(
        angle=int(tr["angle"]), align=tr["align"],
        baseline="middle" if tr["txt"].startswith("Time") else "alphabetic",
        font=FONT, fontSize=float(tr["size"]), fontWeight=tr["weight"], fontStyle=tr["style"], color="black",
    ).encode(**xy("x", "y"), text="txt:N"))

chart = alt.layer(*layers).properties(
    width=W, height=H, padding=0, autosize=alt.AutoSizeParams(type="none"),
).configure(font=FONT).configure_view(strokeWidth=0).configure_legend(
    orient="none", legendX=0, legendY=1181, direction="horizontal", columns=7,
    symbolType="stroke", symbolSize=324, labelFontSize=12.5, labelFont=FONT, labelColor="black",
    strokeColor="#888888", padding=3, columnPadding=45, labelOffset=4, cornerRadius=0,
)

chart.save("out.html", embed_options={"renderer": "svg", "actions": False})
